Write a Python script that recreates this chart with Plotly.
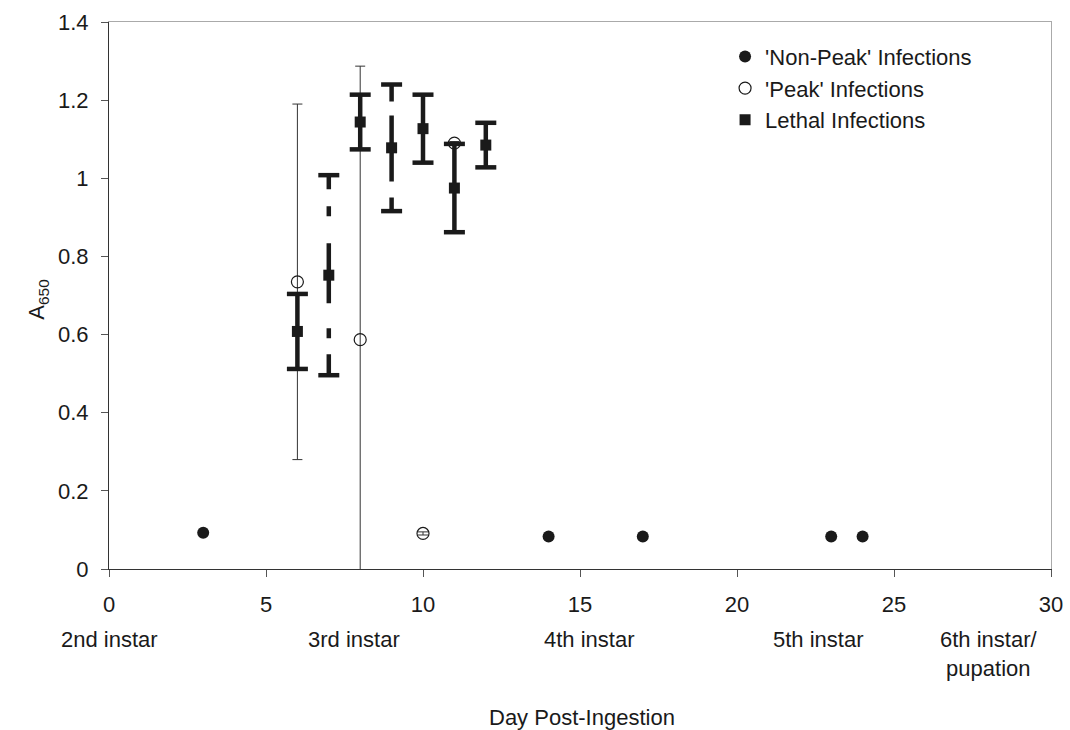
import plotly.graph_objects as go

# ---- data ----
nonpeak_day = [3, 14, 17, 23, 24]
nonpeak_a650 = [0.093, 0.083, 0.083, 0.083, 0.083]

peak_day = [6, 8, 10, 11]
peak_a650 = [0.735, 0.587, 0.091, 1.09]
peak_err = [0.455, 0.70, 0.004, 0.004]

lethal_day = [6, 7, 8, 9, 10, 11, 12]
lethal_a650 = [0.608, 0.752, 1.144, 1.078, 1.127, 0.975, 1.085]
lethal_err = [0.096, 0.256, 0.07, 0.162, 0.087, 0.113, 0.057]

stage_day = [0, 7.8, 15.3, 22.6, 28]
stage_labels = ["2nd instar", "3rd instar", "4th instar", "5th instar", "6th instar/<br>pupation"]

# ---- styles (kept apart from the data) ----
FONT = "Liberation Sans, Arial, sans-serif"
INK = "#1a1a1a"
LETHAL_DASH = {7: "14px,17px,10px,27px,60px,25px,10px,16px,23px,200px",
               9: "17px,14px,66px,16px,14px,200px"}

fig = go.Figure()

fig.add_trace(go.Scatter(
    x=nonpeak_day, y=nonpeak_a650, mode="markers",
    name="'Non-Peak' Infections",
    marker=dict(symbol="circle", size=12, color=INK),
))
fig.add_trace(go.Scatter(
    x=peak_day, y=peak_a650, mode="markers",
    name="'Peak' Infections",
    marker=dict(symbol="circle-open", size=12, color=INK, line=dict(width=1.2, color=INK)),
    error_y=dict(type="data", array=peak_err, symmetric=True, thickness=1, width=5, color="#333333"),
))

# lethal error bars: stems (some broken/dashed as in the original) and caps
for d, v, e in zip(lethal_day, lethal_a650, lethal_err):
    fig.add_trace(go.Scatter(
        x=[d, d], y=[v + e, v - e], mode="lines", showlegend=False, hoverinfo="skip",
        line=dict(color=INK, width=4.5, dash=LETHAL_DASH.get(d, "solid")),
    ))
cap_x = lethal_day + lethal_day
cap_y = [v + e for v, e in zip(lethal_a650, lethal_err)] + [v - e for v, e in zip(lethal_a650, lethal_err)]
fig.add_trace(go.Scatter(
    x=cap_x, y=cap_y, mode="markers", showlegend=False, hoverinfo="skip",
    marker=dict(symbol="line-ew", size=15, color=INK, line=dict(width=4.5, color=INK)),
))
fig.add_trace(go.Scatter(
    x=lethal_day, y=lethal_a650, mode="markers",
    name="Lethal Infections",
    marker=dict(symbol="square", size=11, color=INK),
))

for d, lab in zip(stage_day, stage_labels):
    fig.add_annotation(
        x=d, xref="x", y=0, yref="paper", yanchor="top", yshift=-56,
        text=lab, showarrow=False, align="center",
        font=dict(family=FONT, size=22, color=INK),
    )

fig.add_annotation(
    x=0.502, xref="paper", y=0, yref="paper", yanchor="middle", yshift=-148,
    text="Day Post-Ingestion", showarrow=False,
    font=dict(family=FONT, size=22, color=INK),
)
fig.add_annotation(
    x=-0.092, xref="paper", y=0.493, yref="paper",
    text="A<sub>650</sub>", textangle=-90, showarrow=False,
    font=dict(family=FONT, size=22, color=INK),
)

fig.update_layout(
    width=1070, height=730,
    margin=dict(l=109, r=19, t=22, b=161, autoexpand=False),
    paper_bgcolor="white", plot_bgcolor="white",
    font=dict(family=FONT, size=22, color=INK),
    showlegend=True,
    legend=dict(x=0.654, y=0.975, xanchor="left", yanchor="top",
                font=dict(family=FONT, size=22, color=INK),
                bgcolor="rgba(0,0,0,0)", itemwidth=30, tracegroupgap=0),
    xaxis=dict(range=[0, 30], dtick=5, tick0=0, showgrid=False, zeroline=False, automargin=False,
               showline=True, linecolor="#333333", linewidth=1.2, mirror=False,
               ticks="outside", ticklen=7, tickcolor="#555555", ticklabelstandoff=8,
               tickfont=dict(family=FONT, size=22, color=INK)),
    yaxis=dict(range=[0, 1.4], dtick=0.2, tick0=0, showgrid=False, zeroline=False, automargin=False,
               showline=True, linecolor="#333333", linewidth=1.2,
               ticks="outside", ticklen=7, tickcolor="#555555", ticklabelstandoff=8,
               tickfont=dict(family=FONT, size=22, color=INK)),
)

# light frame on top and right of the plot area
fig.update_layout(
    xaxis2=dict(overlaying="x", side="top", range=[0, 30], showline=True, linecolor="#aaaaaa",
                showticklabels=False, ticks="", showgrid=False, zeroline=False, automargin=False),
    yaxis2=dict(overlaying="y", side="right", range=[0, 1.4], showline=True, linecolor="#aaaaaa",
                showticklabels=False, ticks="", showgrid=False, zeroline=False, automargin=False),
)
fig.add_trace(go.Scatter(x=[None], y=[None], xaxis="x2", yaxis="y2", showlegend=False, hoverinfo="skip"))

fig.write_html("out.html")
